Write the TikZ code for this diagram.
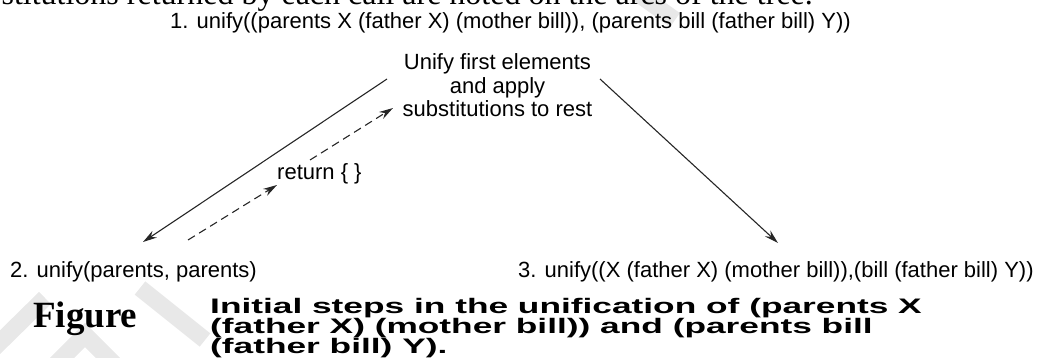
\documentclass[tikz,border=0pt]{standalone}
\usepackage{fontspec}
\setmainfont{Liberation Sans}
\newfontfamily\figfont{Liberation Serif}
\newfontfamily\bodyfont{Liberation Serif}
\newfontfamily\capfont[FakeStretch=1.68]{Liberation Sans}
\usetikzlibrary{arrows.meta,calc}

\tikzset{
  lbl/.style={inner sep=0pt, font=\fontsize{22}{23.5}\selectfont, text=black},
  call/.style={lbl, anchor=base west},
  edge/.style={line width=1.1pt, draw=black!85, -{Stealth[length=14pt,width=8pt]}},
  retedge/.style={edge, dash pattern=on 8pt off 5pt},
  wmark/.style={draw=gray!18, line width=17pt}
}

\begin{document}
\begin{tikzpicture}[x=1pt,y=-1pt]
\useasboundingbox (0,0) rectangle (1044,358);
\clip (0,0) rectangle (1044,358);

% faint background watermark strokes
\draw[wmark] (140,288) -- (205,340);
\draw[wmark] (-10,352) -- (45,298);
\draw[wmark] (50,370) -- (85,335) -- (120,370);
\draw[wmark] (630,-12) -- (675,20);

% running text of the page above the figure
\node[anchor=base east, inner sep=0pt, font=\bodyfont\fontsize{32}{34}\selectfont]
  (prose) at (813,5) {stitutions returned by each call are noted on the arcs of the tree.};

% tree of unify calls (multi-line nodes sit on the baseline of their last line)
\node[call] (n1) at (170,29)
  {1. unify((parents X (father X) (mother bill)), (parents bill (father bill) Y))};
\node[lbl, anchor=base, align=center] (mid) at (497.5,117)
  {Unify first elements\\and apply\\substitutions to rest};
\node[call] (n2) at (10,277) {2. unify(parents, parents)};
\node[call] (n3) at (518,277)
  {3. unify((X (father X) (mother bill)),(bill (father bill) Y))};
\node[call] (ret) at (277,180) {return \{ \}};

% calls
\draw[edge] ($(mid.base)+(-110.5,-38)$) -- ($(n2.base west)+(133,-35)$);
\draw[edge] ($(mid.base)+(102.5,-38)$) -- ($(n3.base west)+(260,-34)$);

% returned substitution, interrupted by its label
\draw[retedge] ($(n2.base west)+(178,-37)$) -- ($(ret.base west)+(0,5)$);
\draw[retedge] ($(ret.base west)+(33,-20)$) -- ($(mid.base)+(-104.5,-9)$);

% caption
\node[anchor=base west, inner sep=0pt, font=\figfont\bfseries\fontsize{37}{40}\selectfont]
  (fig) at (33,327) {Figure};
\node[anchor=base west, inner sep=0pt, align=left,
      font=\capfont\bfseries\fontsize{21}{20}\selectfont] (cap) at (210,353)
  {Initial steps in the unification of (parents X\\(father X) (mother bill)) and (parents bill\\(father bill) Y).};
\end{tikzpicture}
\end{document}
